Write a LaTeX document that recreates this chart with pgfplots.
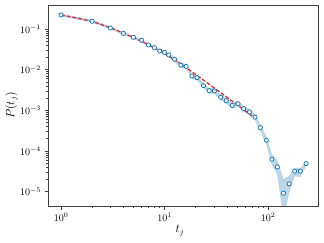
\documentclass[border=0pt]{standalone}
\usepackage{pgfplots}
\pgfplotsset{compat=1.18}
\definecolor{tabblue}{HTML}{1F77B4}
\definecolor{tabred}{HTML}{D62728}
\begin{document}
\begin{tikzpicture}
\useasboundingbox (-48pt,-36pt) rectangle (276pt,206pt);
\begin{axis}[
  scale only axis, width=270pt, height=201pt,
  xmode=log, ymode=log,
  xmin=0.749, xmax=304, ymin=4.45e-6, ymax=0.389,
  axis line style={black!75, line width=0.8pt},
  tick align=outside, xtick pos=left, ytick pos=left,
  major tick length=3.5pt, minor tick length=2pt,
  every tick/.style={black!75, line width=0.6pt},
  xtick={1,10,100}, ytick={1e-5,1e-4,1e-3,1e-2,1e-1},
  tick label style={font=\fontsize{10}{12}\selectfont},
  xlabel={$t_j$}, ylabel={$P(t_j)$},
  label style={font=\fontsize{12}{14}\selectfont},
  xlabel style={at={(axis description cs:0.489,-0.124)}, anchor=center},
  ylabel style={at={(axis description cs:-0.135,0.5)}, anchor=center},
  clip=true,
]
% shaded band
\addplot[draw=none, fill=tabblue, fill opacity=0.3] coordinates {
(1,0.239) (2,0.167) (3,0.1145) (4,0.0842) (5,0.0675) (6,0.0569) (7,0.0437) (8,0.0375) (9,0.0311) (10,0.0286) (11,0.0248)
(12.5,0.0207) (14.4,0.01484) (16.2,0.0138) (18.4,0.00805) (20.6,0.00731) (23.8,0.00466) (27.0,0.00351)
(30.3,0.00354) (34.9,0.00248) (39.5,0.00203) (45.1,0.001558) (51.3,0.001711) (58.2,0.001298) (66.2,0.001079) (74.9,0.000802)
(84.3,0.000459) (96.3,0.000236) (109,8.5e-5) (123,6.0e-5) (141,2.06e-5) (160,2.44e-5) (181,3.85e-5) (205,3.85e-5) (233,5.5e-5)
(233,4.14e-5) (205,2.31e-5) (181,2.4e-5) (160,9.3e-6) (141,2e-6) (123,2.59e-5) (109,4.55e-5) (96.3,0.0001438) (84.3,0.000308)
(74.9,0.000576) (66.2,0.000775) (58.2,0.000932) (51.3,0.001229) (45.1,0.001119) (39.5,0.001458) (34.9,0.00178) (30.3,0.00254)
(27.0,0.00265) (23.8,0.00352) (20.6,0.00553) (18.4,0.00609) (16.2,0.01043) (14.4,0.01122) (12.5,0.01565)
(11,0.0213) (10,0.0245) (9,0.0267) (8,0.0321) (7,0.0375) (6,0.0488) (5,0.0579) (4,0.0722) (3,0.0981) (2,0.1435) (1,0.205)
} -- cycle;
% data points
\addplot[only marks, mark=*, mark size=2.1pt, mark options={draw=tabblue, fill=white, line width=0.8pt}] coordinates {
(1,0.221) (2,0.155) (3,0.106) (4,0.078) (5,0.0625) (6,0.0527) (7,0.0405) (8,0.0347) (9,0.0288) (10,0.0265) (11,0.0230)
(12.5,0.0180) (14.4,0.0129) (16.2,0.0120) (18.4,0.0070) (20.6,0.00636) (23.8,0.00405) (27.0,0.00305)
(30.3,0.00300) (34.9,0.00210) (39.5,0.00172) (45.1,0.00132) (51.3,0.00145) (58.2,0.00110) (66.2,0.000914) (74.9,0.00068)
(84.3,0.000376) (96.3,0.000184) (109,6.29e-5) (123,4.07e-5) (141,9.2e-6) (160,1.56e-5) (181,3.19e-5) (205,3.19e-5) (233,4.9e-5)
};
% fit
\addplot[tabred, line width=1.2pt, dash pattern=on 4pt off 1.8pt, smooth] coordinates {
(1,0.221) (1.366,0.190) (1.993,0.153) (3.04,0.106) (4.85,0.0636) (8.09,0.0335) (14.1,0.0143) (24.6,0.0052) (42.9,0.00185) (74.9,0.00064)
};
\end{axis}
\end{tikzpicture}
\end{document}
